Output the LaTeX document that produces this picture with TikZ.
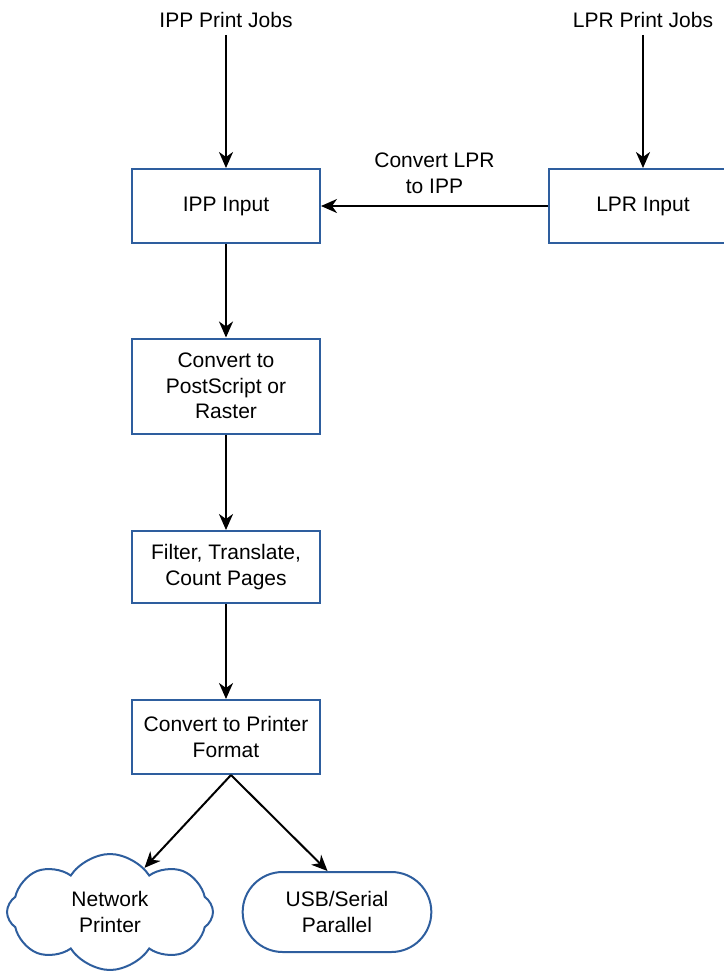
\documentclass[tikz,border=0pt]{standalone}
\usepackage{fontspec}
\setmainfont{Liberation Sans}
\usetikzlibrary{arrows.meta, shapes.symbols, shapes.misc}
\definecolor{boxblue}{RGB}{46,94,158}

\begin{document}
\begin{tikzpicture}[x = 0.5pt, y = -0.5pt,
    font = \fontsize{10.5}{12.75}\selectfont,
    stage/.style = {draw = boxblue, line width = 1pt, minimum width = 94pt,
      minimum height = 37pt, align = center, inner sep = 2pt},
    flow/.style = {-{Stealth[length = 8pt, width = 7pt, inset = 2.5pt]}, line width = 1pt}]
  \useasboundingbox (0, 0) rectangle (724, 971);
  \node (ippjobs) at (226, 20) {IPP Print Jobs};
  \node (lprjobs) at (643, 20) {LPR Print Jobs};
  \node[stage] (ippin) at (226, 206) {IPP Input};
  \node[stage] (lprin) at (643, 206) {LPR Input};
  \node[stage, minimum height = 47.5pt] (toraster) at (226, 386) {Convert to\\PostScript or\\Raster};
  \node[stage, minimum height = 36pt] (filter) at (226, 567) {Filter, Translate,\\Count Pages};
  \node[stage] (format) at (226, 737) {Convert to Printer\\Format};
  \node[cloud, draw = boxblue, line width = 1pt, cloud puffs = 8, cloud puff arc = 115,
    aspect = 1.8, minimum width = 103pt, minimum height = 58pt, align = center,
    inner sep = 0pt] (net) at (110, 912) {Network\\Printer};
  \node[rounded rectangle, draw = boxblue, line width = 1pt, minimum width = 101pt,
    minimum height = 40pt, align = center] (usb) at (337, 912) {USB/Serial\\Parallel};
  \draw[flow] (ippjobs) -- (ippin);
  \draw[flow] (lprjobs) -- (lprin);
  \draw[flow] (lprin) -- node[above = 2.5pt, align = center] {Convert LPR\\to IPP} (ippin);
  \draw[flow] (ippin) -- (toraster);
  \draw[flow] (toraster) -- (filter);
  \draw[flow] (filter) -- (format);
  \draw[flow] ([xshift = 2.5pt] format.south) -- (net.52);
  \draw[flow] ([xshift = 2.5pt] format.south) -- (usb.103);
\end{tikzpicture}
\end{document}
